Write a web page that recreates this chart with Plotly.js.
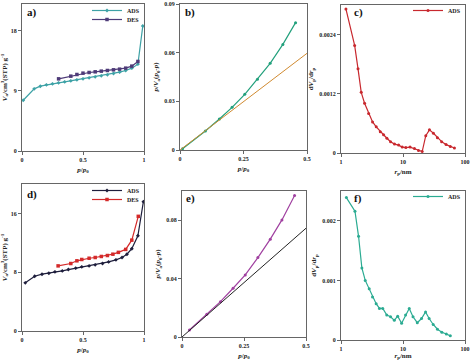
<!DOCTYPE html>
<html><head><meta charset="utf-8">
<script src="https://cdn.plot.ly/plotly-3.0.1.min.js"></script>
<style>body{margin:0;background:#fff}#g{width:474px;height:360px}</style>
</head><body><div id="g"></div>
<script>
// Panel a
const aAdsX=[0.01,0.1,0.15,0.2,0.25,0.3,0.35,0.4,0.45,0.5,0.55,0.6,0.65,0.7,0.75,0.8,0.85,0.9,0.95,0.99];
const aAdsY=[7.6,9.3,9.7,9.9,10.05,10.2,10.35,10.5,10.65,10.8,10.95,11.1,11.25,11.4,11.6,11.8,12.05,12.4,13.0,18.7];
const aDesX=[0.3,0.4,0.45,0.5,0.55,0.6,0.65,0.7,0.75,0.8,0.85,0.9,0.95];
const aDesY=[10.8,11.2,11.45,11.65,11.75,11.85,11.95,12.05,12.15,12.25,12.4,12.7,13.4];
// Panel b
const bX=[0.01,0.1,0.155,0.205,0.255,0.305,0.355,0.405,0.455];
const bY=[0.0008,0.0117,0.0191,0.0263,0.0343,0.0436,0.0534,0.0651,0.0785];
const bLineX=[0,0.5];
const bLineY=[0,0.0596];
// Panel c
const cX=[1.2,1.66,1.88,2.12,2.4,2.79,3.23,3.7,4.3,4.86,5.5,6.3,7.3,8.5,9.7,11.1,13,15.3,17.8,20.4,23.3,26.7,31,35.9,42,49.5,58,67.5];
const cY=[0.00292,0.00218,0.00171,0.00123,0.00101,0.0008,0.00063,0.00053,0.00043,0.00037,0.0003,0.00023,0.00018,0.00016,0.00012,0.00011,0.00012,0.00009,0.00005,0.00003,0.00035,0.00047,0.0004,0.00031,0.00023,0.00017,0.00013,0.0001];
// Panel d
const dAdsX=[0.027,0.104,0.164,0.22,0.27,0.33,0.38,0.44,0.49,0.55,0.6,0.66,0.71,0.77,0.82,0.86,0.9,0.95,0.995];
const dAdsY=[6.55,7.45,7.73,7.86,8.05,8.18,8.36,8.55,8.73,8.86,9.0,9.18,9.4,9.68,10.0,10.45,11.2,12.95,17.6];
const dDesX=[0.296,0.4,0.45,0.49,0.55,0.6,0.65,0.7,0.745,0.79,0.85,0.9,0.953];
const dDesY=[8.86,9.18,9.55,9.73,9.9,10.0,10.14,10.27,10.45,10.7,11.1,12.36,15.6];
// Panel e
const eX=[0.03,0.1,0.155,0.206,0.255,0.306,0.356,0.403,0.454];
const eY=[0.0048,0.0155,0.0242,0.0334,0.0425,0.0544,0.067,0.0802,0.0969];
const eLineX=[0,0.5];
const eLineY=[0,0.0745];
// Panel f
const fX=[1.22,1.68,1.92,2.17,2.46,2.85,3.22,3.69,4.17,4.72,5.47,6.3,7.25,8.2,9.5,11.0,12.6,14.5,17,19.9,23.1,26.4,30.7,36,42.3,50,58];
const fY=[0.00239,0.00216,0.00174,0.00121,0.001,0.00086,0.00072,0.00061,0.00053,0.00053,0.00042,0.00039,0.00033,0.0004,0.00028,0.00042,0.00053,0.00039,0.00029,0.00036,0.00047,0.00036,0.00026,0.00018,0.00013,0.0001,0.00007];

const FONT='Liberation Serif';
const tf={family:FONT,size:6,color:'#222',weight:'bold'};
const ttf={family:FONT,size:7,color:'#222',weight:'bold'};
function ax(dom,range,vals,texts,title,anchor,extra){
  return Object.assign({domain:dom,range:range,tickvals:vals,ticktext:texts,anchor:anchor,
    showline:true,mirror:true,linecolor:'#666',linewidth:1,ticks:'outside',ticklen:3,tickcolor:'#666',
    showgrid:false,zeroline:false,tickfont:tf,automargin:false,title:{text:title,font:ttf,standoff:4}},extra||{});
}
const W=474,H=360;
const px=(a,b)=>[a/W,b/W];
const py=(top,bot)=>[1-bot/H,1-top/H];
const ln=(c,w)=>({color:c,width:w||1.2});
const traces=[
 {x:aAdsX,y:aAdsY,xaxis:'x',yaxis:'y',mode:'lines+markers',name:'ADS',line:ln('#3ea2a6'),marker:{size:3,color:'#3ea2a6',symbol:'diamond'},legend:'legend'},
 {x:aDesX,y:aDesY,xaxis:'x',yaxis:'y',mode:'lines+markers',name:'DES',line:ln('#4e3b78'),marker:{size:3.5,color:'#4e3b78',symbol:'square'},legend:'legend5'},
 {x:bX,y:bY,xaxis:'x2',yaxis:'y2',mode:'lines+markers',line:ln('#22a07c'),marker:{size:3,color:'#22a07c'},showlegend:false},
 {x:bLineX,y:bLineY,xaxis:'x2',yaxis:'y2',mode:'lines',line:ln('#d08a30',1),showlegend:false},
 {x:cX,y:cY,xaxis:'x3',yaxis:'y3',mode:'lines+markers',name:'ADS',line:ln('#c8282e'),marker:{size:3,color:'#c8282e'},legend:'legend2'},
 {x:dAdsX,y:dAdsY,xaxis:'x4',yaxis:'y4',mode:'lines+markers',name:'ADS',line:ln('#1e1e3c'),marker:{size:3,color:'#1e1e3c',symbol:'diamond'},legend:'legend3'},
 {x:dDesX,y:dDesY,xaxis:'x4',yaxis:'y4',mode:'lines+markers',name:'DES',line:ln('#d42a2a'),marker:{size:3.5,color:'#d42a2a',symbol:'square'},legend:'legend6'},
 {x:eX,y:eY,xaxis:'x5',yaxis:'y5',mode:'lines+markers',line:ln('#a040a0'),marker:{size:3,color:'#a040a0'},showlegend:false},
 {x:eLineX,y:eLineY,xaxis:'x5',yaxis:'y5',mode:'lines',line:ln('#222',1),showlegend:false},
 {x:fX,y:fY,xaxis:'x6',yaxis:'y6',mode:'lines+markers',name:'ADS',line:ln('#2bab92'),marker:{size:3,color:'#2bab92'},legend:'legend4'}
];
const pp='<i>p</i>/<i>p</i><sub>0</sub>';
const rp='<i>r</i><sub>p</sub>/nm';
const va='<i>V</i><sub>a</sub>/cm<sup>3</sup>(STP) g<sup>-1</sup>';
const bet='<i>p</i>/<i>V</i><sub>a</sub>(<i>p</i><sub>0</sub>-<i>p</i>)';
const dv='d<i>V</i><sub>p</sub>/d<i>r</i><sub>p</sub>';
const lg=(x,ytxt)=>({x:x/W,y:1-(ytxt-12)/H,xanchor:'right',yanchor:'top',bgcolor:'rgba(0,0,0,0)',font:{family:FONT,size:6,color:'#222',weight:'bold'},itemwidth:30,tracegroupgap:0,itemsizing:'trace'});
const layout={
 width:W,height:H,margin:{l:0,r:0,t:0,b:0,autoexpand:false},paper_bgcolor:'#fff',plot_bgcolor:'#fff',
 xaxis:ax(px(22,144),[0,1],[0,0.5,1],['0','0.5','1'],pp,'y'),
 yaxis:ax(py(4,151),[0,22],[0,9,18],['0','9','18'],va,'x'),
 xaxis2:ax(px(180,307),[0,0.5],[0,0.25,0.5],['0','0.25','0.5'],pp,'y2'),
 yaxis2:ax(py(4,150),[0,0.09],[0,0.03,0.06,0.09],['0','0.03','0.06','0.09'],bet,'x2'),
 xaxis3:ax(px(341,465),[0,2],[1,10,100],['1','10','100'],rp,'y3',{type:'log'}),
 yaxis3:ax(py(5,153),[0,0.003],[0,0.0012,0.0024],['0','0.0012','0.0024'],dv,'x3'),
 xaxis4:ax(px(22,144),[0,1],[0,0.5,1],['0','0.5','1'],pp,'y4'),
 yaxis4:ax(py(184,331),[0,20],[0,8,16],['0','8','16'],va,'x4'),
 xaxis5:ax(px(182,306),[0,0.5],[0,0.25,0.5],['0','0.25','0.5'],pp,'y5'),
 yaxis5:ax(py(191,337),[0,0.1],[0,0.04,0.08],['0','0.04','0.08'],bet,'x5'),
 xaxis6:ax(px(341,465),[0,2],[1,10,100],['1','10','100'],rp,'y6',{type:'log'}),
 yaxis6:ax(py(191,340),[0,0.0025],[0,0.001,0.002],['0','0.001','0.002'],dv,'x6'),
 legend:lg(145,8),
 legend5:lg(145,17),
 legend2:lg(466,8),
 legend3:lg(145,188),
 legend6:lg(145,197),
 legend4:lg(466,194),
 annotations:[['a)',25,4],['b)',183,4],['c)',352,4],['d)',25,186],['e)',184,190],['f)',352,190]].map(a=>({
   text:a[0],x:a[1]/W,y:1-a[2]/H,xref:'paper',yref:'paper',xanchor:'left',yanchor:'top',showarrow:false,
   font:{family:FONT,size:11,color:'#111',weight:'bold'}}))
};
Plotly.newPlot('g',traces,layout,{displayModeBar:false,staticPlot:true});
</script></body></html>
